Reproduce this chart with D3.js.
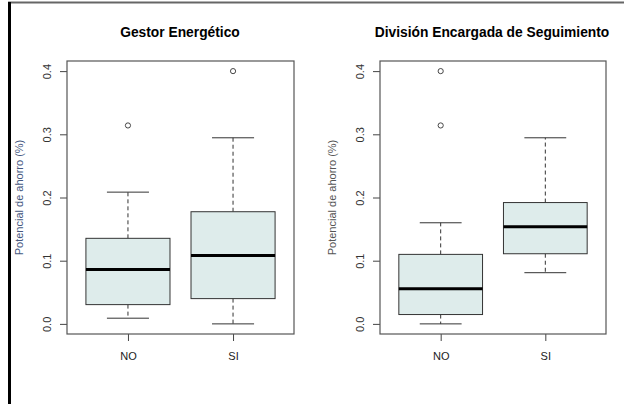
<!DOCTYPE html>
<html>
<head>
<meta charset="utf-8">
<script src="https://cdn.jsdelivr.net/npm/d3@7"></script>
<style>
  html, body { margin: 0; padding: 0; background: #fff; }
  svg { display: block; font-family: "Liberation Sans", Arial, sans-serif; }
</style>
</head>
<body>
<svg id="chart" width="624" height="404"></svg>
<script>
// Groups on the x axis
const groups = ["NO", "SI"];
// Y-axis tick values
const yTicks = [0.0, 0.1, 0.2, 0.3, 0.4];

// Box statistics per group: [lower whisker, Q1, median, Q3, upper whisker]
const gestorStats = [
  [0.009, 0.0305, 0.0861, 0.1354, 0.2085],
  [0.000, 0.0400, 0.1082, 0.1775, 0.2945]
];
const gestorOutliers = [[0.314], [0.400]];

const divisionStats = [
  [0.000, 0.0148, 0.0557, 0.1100, 0.1600],
  [0.081, 0.1110, 0.1538, 0.1920, 0.2945]
];
const divisionOutliers = [[0.400, 0.314], []];

const panels = [
  { title: "Gestor Energético", stats: gestorStats, outliers: gestorOutliers,
    left: 67, right: 294, labelColor: "#46587f", titleX: 180 },
  { title: "División Encargada de Seguimiento", stats: divisionStats, outliers: divisionOutliers,
    left: 380, right: 606, labelColor: "#555555", titleX: 492 }
];

const svg = d3.select("#chart");
const plotTop = 61, plotBottom = 334;

// Outer frame lines (top and left edges)
svg.append("line").attr("x1", 8).attr("x2", 624).attr("y1", 2.5).attr("y2", 2.5)
  .attr("stroke", "#666").attr("stroke-width", 2);
svg.append("line").attr("x1", 9.5).attr("x2", 9.5).attr("y1", 2).attr("y2", 404)
  .attr("stroke", "#000").attr("stroke-width", 3);

panels.forEach(p => {
  const g = svg.append("g");
  const y = d3.scaleLinear().domain([-0.016, 0.416]).range([plotBottom, plotTop]);
  const x = d3.scaleLinear().domain([0.42, 2.58]).range([p.left, p.right]);
  const unit = x(2) - x(1);
  const boxW = 0.8 * unit;
  const capW = boxW / 2;

  // Title
  g.append("text").attr("x", p.titleX).attr("y", 37)
    .attr("text-anchor", "middle").attr("font-size", 13.8).attr("font-weight", "bold")
    .attr("fill", "#000").text(p.title);

  // Y axis
  const yAxis = g.append("g").attr("transform", `translate(${p.left},0)`)
    .call(d3.axisLeft(y).tickValues(yTicks).tickSize(7).tickFormat(d3.format(".1f")));
  yAxis.select(".domain").remove();
  yAxis.selectAll(".tick line").attr("stroke", "#444");
  yAxis.selectAll(".tick text")
    .attr("transform", "rotate(-90)")
    .attr("x", 0).attr("y", -16).attr("dy", 0)
    .attr("text-anchor", "middle")
    .attr("font-size", 11).attr("fill", "#333")
    .style("font-family", "'Liberation Sans', Arial, sans-serif");

  // X axis
  const xAxis = g.append("g").attr("transform", `translate(0,${plotBottom})`)
    .call(d3.axisBottom(x).tickValues([1, 2]).tickSize(7).tickFormat((d, i) => groups[i]));
  xAxis.select(".domain").remove();
  xAxis.selectAll(".tick line").attr("stroke", "#444");
  xAxis.selectAll(".tick text")
    .attr("y", 25.5).attr("dy", 0)
    .attr("font-size", 11).attr("fill", "#222")
    .style("font-family", "'Liberation Sans', Arial, sans-serif");

  // Y label
  g.append("text")
    .attr("transform", `translate(${p.left - 44},${(plotTop + plotBottom) / 2}) rotate(-90)`)
    .attr("text-anchor", "middle").attr("font-size", 11)
    .attr("fill", p.labelColor).text("Potencial de ahorro (%)");

  // Boxes
  p.stats.forEach((s, i) => {
    const cx = x(i + 1);
    const [lo, q1, med, q3, hi] = s;
    // whiskers
    g.append("line").attr("x1", cx).attr("x2", cx).attr("y1", y(q3)).attr("y2", y(hi))
      .attr("stroke", "#333").attr("stroke-dasharray", "4,3");
    g.append("line").attr("x1", cx).attr("x2", cx).attr("y1", y(q1)).attr("y2", y(lo))
      .attr("stroke", "#333").attr("stroke-dasharray", "4,3");
    // caps
    [lo, hi].forEach(v => {
      g.append("line").attr("x1", cx - capW / 2).attr("x2", cx + capW / 2)
        .attr("y1", y(v)).attr("y2", y(v)).attr("stroke", "#333");
    });
    // box
    g.append("rect").attr("x", cx - boxW / 2).attr("y", y(q3))
      .attr("width", boxW).attr("height", y(q1) - y(q3))
      .attr("fill", "#deeceb").attr("stroke", "#333").attr("stroke-width", 1);
    // median
    g.append("line").attr("x1", cx - boxW / 2).attr("x2", cx + boxW / 2)
      .attr("y1", y(med)).attr("y2", y(med)).attr("stroke", "#000").attr("stroke-width", 3);
    // outliers
    p.outliers[i].forEach(v => {
      g.append("circle").attr("cx", cx).attr("cy", y(v)).attr("r", 2.6)
        .attr("fill", "none").attr("stroke", "#333").attr("stroke-width", 0.9);
    });
  });

  // Plot frame
  g.append("rect").attr("x", p.left).attr("y", plotTop)
    .attr("width", p.right - p.left).attr("height", plotBottom - plotTop)
    .attr("fill", "none").attr("stroke", "#555").attr("stroke-width", 1.2);
});
</script>
</body>
</html>
